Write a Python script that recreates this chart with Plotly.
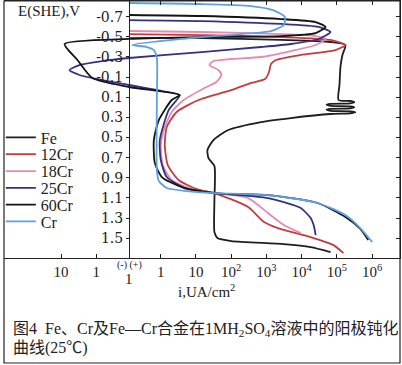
import plotly.graph_objects as go

# ---- axis ticks (x in "decade position" units: anodic 10^k at 0.9+k, cathodic to the left of 0) ----
X_TICK_POS = [-1.93, -0.93, 0.90, 1.90, 2.90, 3.90, 4.90, 5.90, 6.90]
X_TICK_TEXT = ["10", "1", "1", "10", "10<sup>2</sup>", "10<sup>3</sup>", "10<sup>4</sup>",
               "10<sup>5</sup>", "10<sup>6</sup>"]
X_TOP_TICKS = [0.90, 1.90, 2.90, 3.90, 4.90, 5.90, 6.90]
E_TICKS = [-0.7, -0.5, -0.3, -0.1, 0.1, 0.3, 0.5, 0.7, 0.9, 1.1, 1.3, 1.5]
E_TEXT = ["-0.7", "-0.5", "-0.3", "-0.1", "0.1", "0.3", "0.5", "0.7", "0.9", "1.1", "1.3", "1.5"]

# ---- curves: x = current (decade position), E = potential V(SHE) ----
fe_x = [0, 2.056, 4.310, 5.718, 6.141, 6.056, 6.000, 5.972, 5.944,
        6.282, 6.394, 6.282, 5.718, 5.606, 5.718, 6.282, 6.394, 6.282, 5.718, 5.606, 5.718,
        6.282, 6.423, 6.282, 5.718,
        4.592, 3.746, 2.817, 2.394, 2.225, 2.254, 2.423, 2.423, 2.423, 2.507,
        2.901, 4.394, 5.155, 5.718]
fe_e = [-0.488, -0.488, -0.469, -0.449, -0.419, -0.320, -0.200, -0.022, 0.127,
        0.137, 0.150, 0.160, 0.165, 0.175, 0.185, 0.190, 0.200, 0.210, 0.215, 0.225, 0.235,
        0.239, 0.249, 0.259, 0.266,
        0.306, 0.346, 0.425, 0.525, 0.624, 0.704, 0.783, 1.120, 1.438, 1.498,
        1.528, 1.558, 1.588, 1.637]

cr12_x = [0, 2.056, 4.310, 5.718, 6.141, 5.859, 4.873, 4.169, 4.028, 3.972, 3.859, 3.465, 2.901,
          1.972, 1.352, 1.070, 1.014, 1.099, 1.408, 1.916, 2.423, 3.380, 3.831, 4.225, 5.155,
          5.803, 6.085]
cr12_e = [-0.528, -0.518, -0.498, -0.469, -0.419, -0.369, -0.320, -0.270, -0.230, -0.151,
          -0.081, -0.042, 0.029, 0.127, 0.246, 0.395, 0.574, 0.773, 0.922, 1.011, 1.051, 1.190,
          1.339, 1.399, 1.488, 1.568, 1.647]

cr18_x = [0, 2.056, 4.310, 5.296, 5.577, 5.296, 4.592, 3.746, 2.901, 2.394, 2.282, 2.535, 2.620,
          2.479, 2.141, 1.549, 1.211, 0.986, 0.901, 0.958, 1.211, 1.775, 2.423, 3.380, 3.944,
          4.394, 4.873]
cr18_e = [-0.558, -0.548, -0.528, -0.508, -0.479, -0.419, -0.359, -0.300, -0.280, -0.260,
          -0.220, -0.171, -0.121, -0.052, 0.008, 0.127, 0.246, 0.425, 0.574, 0.773, 0.922,
          1.011, 1.051, 1.101, 1.250, 1.369, 1.448]

cr25_x = [0, 2.056, 4.310, 5.380, 5.718, 5.380, 4.592, 3.746, 2.056, 0, -0.761, -1.408, -1.690,
          -1.408, -0.761, 0, 0.930, 1.437, 1.127, 0.873, 0.901, 1.070, 1.634, 2.423, 3.944,
          4.873, 5.155, 5.239, 5.296]
cr25_e = [-0.667, -0.657, -0.628, -0.598, -0.548, -0.479, -0.429, -0.399, -0.349, -0.290,
          -0.260, -0.220, -0.171, -0.121, -0.071, -0.022, 0.038, 0.078, 0.226, 0.525, 0.724,
          0.892, 1.011, 1.051, 1.101, 1.200, 1.300, 1.369, 1.468]

cr60_x = [0, 2.056, 4.310, 5.296, 5.577, 5.296, 4.310, 2.056, 0, -1.831, -1.465, -1.042, 0,
          1.437, 1.211, 0.845, 0.704, 0.732, 0.930, 1.493, 2.423, 3.944, 5.352, 6.141, 6.563,
          6.789]
cr60_e = [-0.717, -0.707, -0.677, -0.647, -0.598, -0.538, -0.508, -0.498, -0.479, -0.429,
          -0.270, -0.091, -0.002, 0.078, 0.127, 0.326, 0.525, 0.754, 0.892, 0.991, 1.051, 1.071,
          1.150, 1.289, 1.408, 1.518]

cr_x = [0, 2.056, 3.465, 4.085, 4.423, 4.394, 4.028, 3.183, 1.493, 0.085, 0.507, 0.704, 0.789,
        0.789, 0.789, 0.845, 1.070, 1.634, 2.423, 3.944, 5.352, 6.141, 6.563, 6.901]
cr_e = [-0.836, -0.826, -0.806, -0.766, -0.697, -0.618, -0.558, -0.528, -0.479, -0.419, -0.399,
        -0.369, -0.290, 0.127, 0.823, 0.931, 1.001, 1.031, 1.051, 1.071, 1.150, 1.269, 1.399,
        1.538]

SERIES = [
    ("Fe", fe_x, fe_e, "#1e1e1e"),
    ("12Cr", cr12_x, cr12_e, "#c43c3e"),
    ("18Cr", cr18_x, cr18_e, "#e58ab2"),
    ("25Cr", cr25_x, cr25_e, "#353180"),
    ("60Cr", cr60_x, cr60_e, "#141414"),
    ("Cr", cr_x, cr_e, "#5fa0e2"),
]

SERIF = "Liberation Serif, Times New Roman, serif"
CJK = "Liberation Serif, Noto Sans CJK SC, serif"

fig = go.Figure()
legend_y = [0.469, 0.4035, 0.338, 0.2725, 0.207, 0.142]
layout_legends = {}
for i, (name, xs, es, col) in enumerate(SERIES):
    lname = "legend" if i == 0 else f"legend{i + 1}"
    fig.add_trace(go.Scatter(x=xs, y=es, mode="lines", name=name, legend=lname,
                             line=dict(color=col, width=1.8, shape="spline", smoothing=0.6),
                             hoverinfo="skip"))
    layout_legends[lname] = dict(x=-0.008, y=legend_y[i], xanchor="left", yanchor="middle",
                                 bgcolor="rgba(0,0,0,0)", borderwidth=0,
                                 font=dict(family=SERIF, size=16, color="#222"))

# helper trace for mirrored (top / right) axes
fig.add_trace(go.Scatter(x=[None], y=[None], xaxis="x2", yaxis="y2", showlegend=False,
                         hoverinfo="skip"))

XR = [-3.549, 7.690]
YR = [1.696, -0.856]
fig.update_layout(
    width=402, height=365,
    margin=dict(l=1, r=2, t=1, b=107),
    paper_bgcolor="white", plot_bgcolor="white",
    showlegend=True,
    xaxis=dict(range=XR, showgrid=False, zeroline=False, showline=True, linecolor="#222",
               linewidth=1.2, ticks="inside", ticklen=4, tickcolor="#222",
               tickvals=X_TICK_POS, ticktext=X_TICK_TEXT, anchor="y",
               tickfont=dict(family=SERIF, size=15, color="#222")),
    yaxis=dict(range=YR, anchor="free", position=(127 - 1) / 399, showgrid=False,
               zeroline=False, showline=True, linecolor="#222", linewidth=1.2,
               ticks="outside", ticklen=3, tickcolor="#222", tickvals=E_TICKS, ticktext=E_TEXT,
               tickfont=dict(family="DejaVu Serif, serif", size=14, color="#222")),
    xaxis2=dict(range=XR, overlaying="x", side="top", anchor="y", showgrid=False,
                zeroline=False, showline=True, linecolor="#222", linewidth=1.2,
                ticks="inside", ticklen=4, tickcolor="#222", tickvals=X_TOP_TICKS,
                showticklabels=False),
    yaxis2=dict(range=YR, overlaying="y", side="right", anchor="x", showgrid=False,
                zeroline=False, showline=True, linecolor="#222", linewidth=1.2,
                ticks="inside", ticklen=4, tickcolor="#222", tickvals=E_TICKS,
                showticklabels=False),
    **layout_legends,
)

ann = [
    dict(text="E(SHE),V", x=0.1128, y=0.961, xref="paper", yref="paper",
         font=dict(family=SERIF, size=15, color="#222")),
    dict(text="i,UA/cm<sup>2</sup>", x=0.511, y=-0.128, xref="paper", yref="paper",
         font=dict(family=SERIF, size=15, color="#222")),
    dict(text="(-) (+)", x=0, y=-0.027, xref="x", yref="paper",
         font=dict(family=SERIF, size=10, color="#222")),
    dict(text="1", x=0, y=-0.082, xref="x", yref="paper",
         font=dict(family=SERIF, size=15, color="#222")),
    dict(text="图4  Fe、Cr及Fe—Cr合金在1MH<sub>2</sub>SO<sub>4</sub>溶液中的阳极钝化",
         x=0.0175, y=-0.280, xref="paper", yref="paper", xanchor="left",
         font=dict(family=CJK, size=16, color="#222")),
    dict(text="曲线(25℃)", x=0.0175, y=-0.350, xref="paper", yref="paper", xanchor="left",
         font=dict(family=CJK, size=16, color="#222")),
]
for a in ann:
    a.setdefault("xanchor", "center")
    a["yanchor"] = "middle"
    a["showarrow"] = False
fig.update_layout(annotations=ann)

fig.add_shape(type="rect", xref="paper", yref="paper", x0=0, x1=1, y0=-0.4086, y1=1,
              line=dict(color="#222", width=1.2), fillcolor="rgba(0,0,0,0)", layer="above")

fig.write_html("out.html", config={"displayModeBar": False},
               post_script="document.body.style.margin='0';")
